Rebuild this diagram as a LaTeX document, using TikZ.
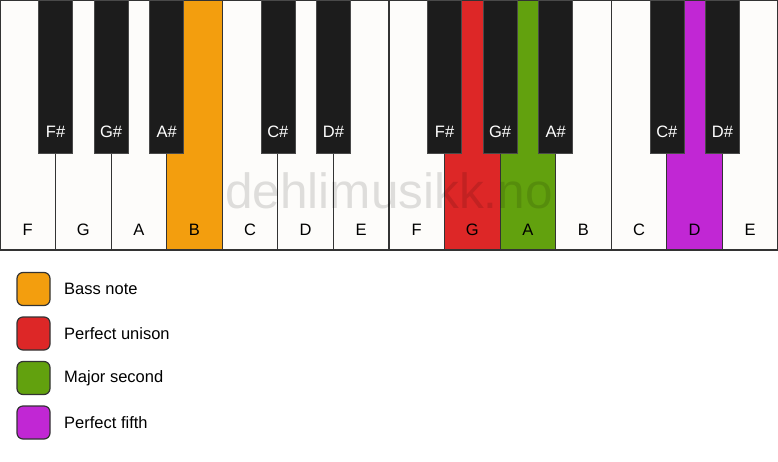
\documentclass[tikz,border=0pt]{standalone}
\usepackage{fontspec}
\setmainfont{Liberation Sans}
\definecolor{keywhite}{HTML}{FDFCFA}
\definecolor{keyblack}{HTML}{1C1C1C}
\definecolor{keyline}{HTML}{333333}
\definecolor{cbass}{HTML}{F39E0E}
\definecolor{cunison}{HTML}{DD2727}
\definecolor{csecond}{HTML}{62A10E}
\definecolor{cfifth}{HTML}{C127D4}
\tikzset{
  whitekey/.style={draw=keyline, line width=1.1pt, fill=keywhite, minimum width=55.57pt, minimum height=250pt, inner sep=0pt, outer sep=0pt},
  blackkey/.style={draw=keyblack!80!white, line width=0.6pt, fill=keyblack, minimum width=34pt, minimum height=153pt, inner sep=0pt, outer sep=0pt},
  wlabel/.style={font=\fontsize{16.5}{16.5}\selectfont, text=black},
  blabel/.style={font=\fontsize{16.5}{16.5}\selectfont, text=white},
  swatch/.style={draw=keyline, line width=1.2pt, rounded corners=6pt, minimum width=33pt, minimum height=33pt, inner sep=0pt},
  legtext/.style={font=\fontsize{16.5}{16.5}\selectfont, anchor=west, inner sep=0pt},
  watermark/.style={font=\fontsize{49.5}{49.5}\selectfont, text=black, text opacity=0.12, anchor=base, inner sep=0pt}
}
\begin{document}
\begin{tikzpicture}[x=1pt,y=-1pt]
\useasboundingbox (0,0) rectangle (778,461);
% white keys
\foreach \n/\c [count=\i from 0] in {F/keywhite,G/keywhite,A/keywhite,B/cbass,C/keywhite,D/keywhite,E/keywhite,F/keywhite,G/cunison,A/csecond,B/keywhite,C/keywhite,D/cfifth,E/keywhite}{
  \node[whitekey, fill=\c] (w\i) at ({(\i+0.5)*55.57},125) {};
  \node[wlabel] (wl\i) at ({(\i+0.5)*55.57},230) {\n};
}
% watermark
\node[watermark] (wm) at (389,208) {dehlimusikk.no};
% black keys
\foreach \b/\n in {1/F,2/G,3/A,5/C,6/D,8/F,9/G,10/A,12/C,13/D}{
  \node[blackkey] (b\b) at ({\b*55.57},76.5) {};
  \node[blabel] (bl\b) at ({\b*55.57},132) {\n\#};
}
% legend
\foreach \c/\t/\y [count=\k] in {cbass/Bass note/289,cunison/Perfect unison/333.5,csecond/Major second/378,cfifth/Perfect fifth/422.5}{
  \node[swatch, fill=\c] (s\k) at (33.5,\y) {};
  \node[legtext] (t\k) at (64,\y) {\t};
}
\end{tikzpicture}
\end{document}
